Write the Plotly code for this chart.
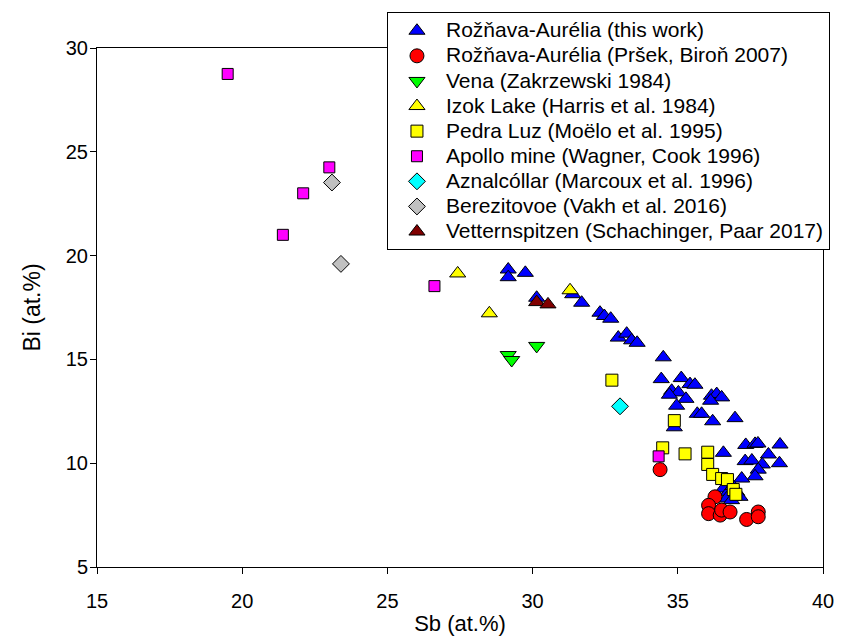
import plotly.graph_objects as go

# ---- data (Sb at.%, Bi at.%) ----
names = [
    "Rožňava-Aurélia (this work)",
    "Rožňava-Aurélia (Pršek, Biroň 2007)",
    "Vena (Zakrzewski 1984)",
    "Izok Lake (Harris et al. 1984)",
    "Pedra Luz (Moëlo et al. 1995)",
    "Apollo mine (Wagner, Cook 1996)",
    "Aznalcóllar (Marcoux et al. 1996)",
    "Berezitovoe (Vakh et al. 2016)",
    "Vetternspitzen (Schachinger, Paar 2017)",
]

roz_sb = [29.16, 29.16, 29.75, 30.14, 31.38, 31.69, 32.32, 32.47, 32.69, 32.95, 33.24, 33.41, 33.6,
          34.5, 34.43, 35.12, 35.42, 35.59, 34.79, 35.02, 34.71, 35.28, 34.96, 36.16, 36.34, 36.51,
          36.13, 35.67, 35.82, 36.2, 36.97, 34.88, 37.34, 37.66, 37.76, 38.52, 38.12, 37.32, 37.55,
          37.91, 38.5, 37.77, 37.66, 37.2, 36.57, 36.57, 36.74, 37.03, 36.68, 36.85, 37.14, 36.9]
roz_bi = [19.33, 18.96, 19.17, 17.97, 18.14, 17.73, 17.25, 17.09, 16.96, 16.05, 16.24, 15.92, 15.8,
          15.1, 14.05, 14.1, 13.81, 13.78, 13.49, 13.41, 13.3, 13.1, 12.77, 13.25, 13.33, 13.17,
          13.01, 12.38, 12.38, 12.02, 12.17, 11.73, 10.88, 10.93, 10.95, 10.9, 10.42, 10.1, 10.13,
          9.94, 10.0, 9.69, 9.37, 9.26, 10.5, 8.78, 8.62, 8.62, 8.3, 8.22, 8.38, 8.9]

prsek_sb = [34.39, 36.28, 36.06, 36.06, 36.46, 36.51, 36.8, 37.37, 37.77, 37.77]
prsek_bi = [9.69, 8.38, 7.97, 7.57, 7.5, 7.74, 7.65, 7.29, 7.65, 7.42]

vena_sb = [29.16, 29.28, 30.14]
vena_bi = [15.21, 14.97, 15.65]

izok_sb = [27.42, 28.51, 31.29]
izok_bi = [19.14, 17.22, 18.33]

pedra_sb = [32.73, 34.88, 34.48, 35.25, 36.03, 36.03, 36.2, 36.51, 36.71, 36.91, 37.0]
pedra_bi = [14.0, 12.05, 10.74, 10.45, 10.53, 9.94, 9.46, 9.26, 9.21, 8.73, 8.5]

apollo_sb = [19.5, 21.4, 22.1, 23.0, 26.62, 34.34]
apollo_bi = [28.75, 21.0, 23.0, 24.25, 18.53, 10.33]

azn_sb = [33.01]
azn_bi = [12.74]

ber_sb = [23.09, 23.4]
ber_bi = [23.52, 19.6]

vet_sb = [30.14, 30.53]
vet_bi = [17.76, 17.65]

series_x = [roz_sb, prsek_sb, vena_sb, izok_sb, pedra_sb, apollo_sb, azn_sb, ber_sb, vet_sb]
series_y = [roz_bi, prsek_bi, vena_bi, izok_bi, pedra_bi, apollo_bi, azn_bi, ber_bi, vet_bi]

colors = ["#0000FF", "#FF0000", "#00FF00", "#FFFF00", "#FFFF00", "#FF00FF", "#00FFFF", "#C0C0C0", "#800000"]
symbols = ["triangle-up", "circle", "triangle-down", "triangle-up", "square", "square",
           "diamond", "diamond", "triangle-up"]
sizes = [14, 14, 14, 14, 12, 11, 13, 13, 14]

fig = go.Figure()
for i, nm in enumerate(names):
    fig.add_trace(go.Scatter(
        x=series_x[i], y=series_y[i], mode="markers",
        name=f'<span style="font-size:21px">{nm}</span>',
        marker=dict(color=colors[i], symbol=symbols[i], size=sizes[i],
                    line=dict(color="#000000", width=1)),
    ))

font_family = "Liberation Sans, Arial, sans-serif"
fig.update_layout(
    width=849, height=639,
    margin=dict(l=97, r=26, t=46, b=72),
    paper_bgcolor="white", plot_bgcolor="white",
    font=dict(family=font_family, size=17, color="#000000"),
    showlegend=True,
    legend=dict(
        x=0.3994, y=1.069, xanchor="left", yanchor="top",
        bgcolor="white", bordercolor="#000000", borderwidth=1,
        font=dict(family=font_family, size=17, color="#000000"),
        itemwidth=48, tracegroupgap=0,
    ),
    xaxis=dict(
        range=[15, 40], tickvals=[15, 20, 25, 30, 35, 40],
        showgrid=False, zeroline=False, automargin=False,
        showline=True, linecolor="#000000", linewidth=1, mirror=True,
        ticks="outside", ticklen=6, tickcolor="#000000",
        tickfont=dict(size=20), ticklabelstandoff=10,
        title=dict(text="Sb (at.%)", font=dict(size=22), standoff=4),
    ),
    yaxis=dict(
        range=[5, 30], tickvals=[5, 10, 15, 20, 25, 30],
        showgrid=False, zeroline=False, automargin=False,
        showline=True, linecolor="#000000", linewidth=1, mirror=True,
        ticks="outside", ticklen=6, tickcolor="#000000",
        tickfont=dict(size=20), ticklabelstandoff=-2,
        title=dict(text="Bi (at.%)", font=dict(size=23), standoff=18),
    ),
)

fig.write_html("out.html")
